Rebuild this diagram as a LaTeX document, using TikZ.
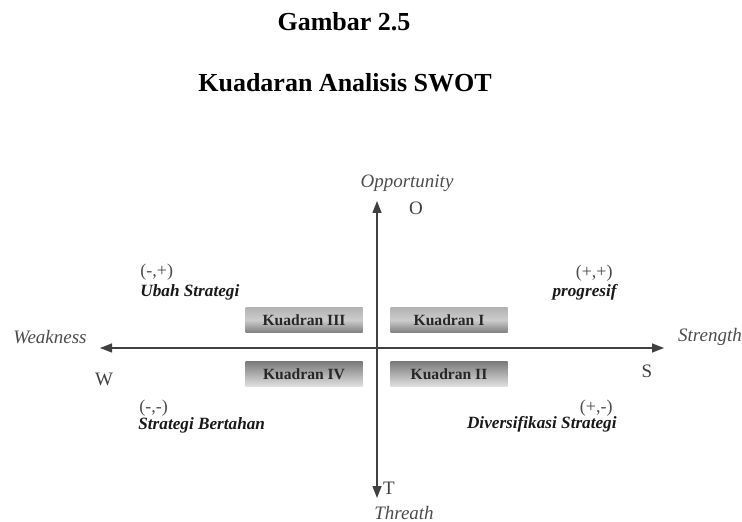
\documentclass[tikz,border=0pt]{standalone}
\usepackage{fontspec}
\setmainfont{Liberation Serif}
\usetikzlibrary{arrows.meta}
\begin{document}
\begin{tikzpicture}[x=0.5pt,y=-0.5pt,
  axis/.style={draw=black!75,line width=0.7pt,-{Triangle[length=6pt,width=4.5pt]}},
  quad/.style={minimum width=58.5pt,minimum height=12.5pt,inner sep=0pt,
    font=\fontsize{7.8}{9}\selectfont\bfseries,text=black!85},
  quadup/.style={quad,top color=black!30,bottom color=black!50,middle color=black!20},
  quaddown/.style={quad,top color=black!52,bottom color=black!12},
  axlabel/.style={font=\fontsize{9.5}{11}\selectfont\itshape,text=black!70,inner sep=0pt},
  letter/.style={font=\fontsize{9.5}{11}\selectfont,text=black!75,inner sep=0pt},
  sign/.style={font=\fontsize{9}{10}\selectfont,text=black!70,inner sep=0pt},
  strat/.style={font=\fontsize{8.6}{10}\selectfont\bfseries\itshape,text=black!90,inner sep=0pt},
  title/.style={font=\fontsize{13}{15}\selectfont\bfseries,inner sep=0pt}]
\useasboundingbox (0,0) rectangle (742,522);

% heading
\node[title] (fig) at (344,22) {Gambar 2.5};
\node[title] (cap) at (345,83) {Kuadaran Analisis SWOT};

% axes
\coordinate (ctr) at (377,348);
\coordinate (west) at (100,348);
\coordinate (east) at (664,348);
\coordinate (north) at (377,201);
\coordinate (south) at (377,498);
\draw[axis] (ctr) -- (west);
\draw[axis] (ctr) -- (east);
\draw[axis] (ctr) -- (north);
\draw[axis] (ctr) -- (south);

% axis labels
\node[axlabel] (opp) at (407,183) {Opportunity};
\node[axlabel] (thr) at (404,513) {Threath};
\node[axlabel] (weak) at (50,337) {Weakness};
\node[axlabel] (str) at (710,337) {Strength};
\node[letter] (lo) at (416,208) {O};
\node[letter] (lt) at (389,488) {T};
\node[letter] (lw) at (104,379) {W};
\node[letter] (ls) at (647,371) {S};

% quadrant boxes
\node[quadup] (q3) at (304,320) {Kuadran III};
\node[quadup] (q1) at (449,320) {Kuadran I};
\node[quaddown] (q4) at (304,374) {Kuadran IV};
\node[quaddown] (q2) at (449,374) {Kuadran II};

% strategy labels
\node[sign,anchor=west] (s3) at (140,272) {(-,+)};
\node[strat,anchor=west] (t3) at (140,292) {Ubah Strategi};
\node[sign,anchor=east] (s1) at (613,273) {(+,+)};
\node[strat,anchor=east] (t1) at (617,292) {progresif};
\node[sign,anchor=west] (s4) at (139,408) {(-,-)};
\node[strat,anchor=west] (t4) at (138,425) {Strategi Bertahan};
\node[sign,anchor=east] (s2) at (613,408) {(+,-)};
\node[strat,anchor=east] (t2) at (617,424) {Diversifikasi Strategi};
\end{tikzpicture}
\end{document}
